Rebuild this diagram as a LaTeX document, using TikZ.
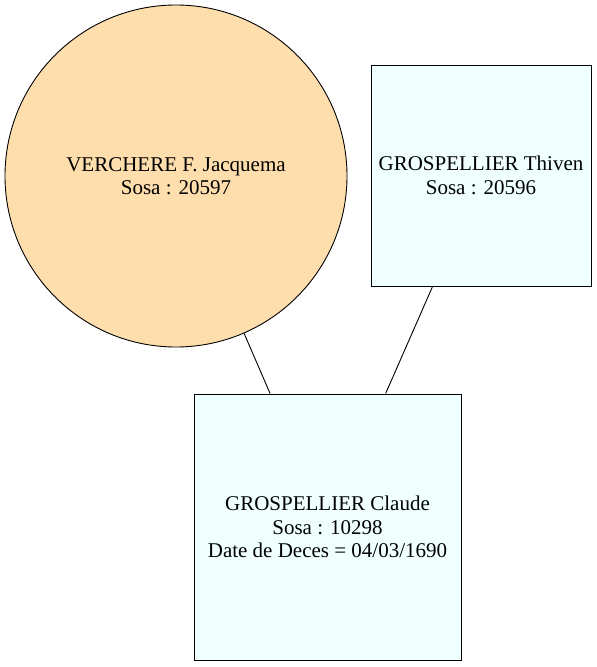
\documentclass[tikz,border=0pt]{standalone}
\usepackage{fontspec}
\setmainfont{Liberation Serif}
\definecolor{navajo}{HTML}{FFDEAD}
\definecolor{azurebox}{HTML}{F0FFFF}
\begin{document}
\begin{tikzpicture}[x=1pt,y=-1pt,
  person/.style={draw=black, line width=0.9pt, align=center, inner sep=0pt,
    font=\fontsize{21}{23.5}\selectfont},
  circ/.style={person, circle, fill=navajo, minimum size=342pt},
  box/.style={person, rectangle, fill=azurebox},
  link/.style={draw=black, line width=0.9pt}]
\useasboundingbox (0,0) rectangle (597,667);
\node[circ] (a) at (176,176) {VERCHERE F. Jacquema\\Sosa : 20597};
\node[box, minimum width=220pt, minimum height=221pt] (b) at (481,175.5) {GROSPELLIER Thiven\\Sosa : 20596};
\node[box, minimum width=267pt, minimum height=266pt] (c) at (327.5,527) {GROSPELLIER Claude\\Sosa : 10298\\Date de Deces = 04/03/1690};
\draw[link] (a) -- (c);
\draw[link] (b) -- (c);
\end{tikzpicture}
\end{document}
